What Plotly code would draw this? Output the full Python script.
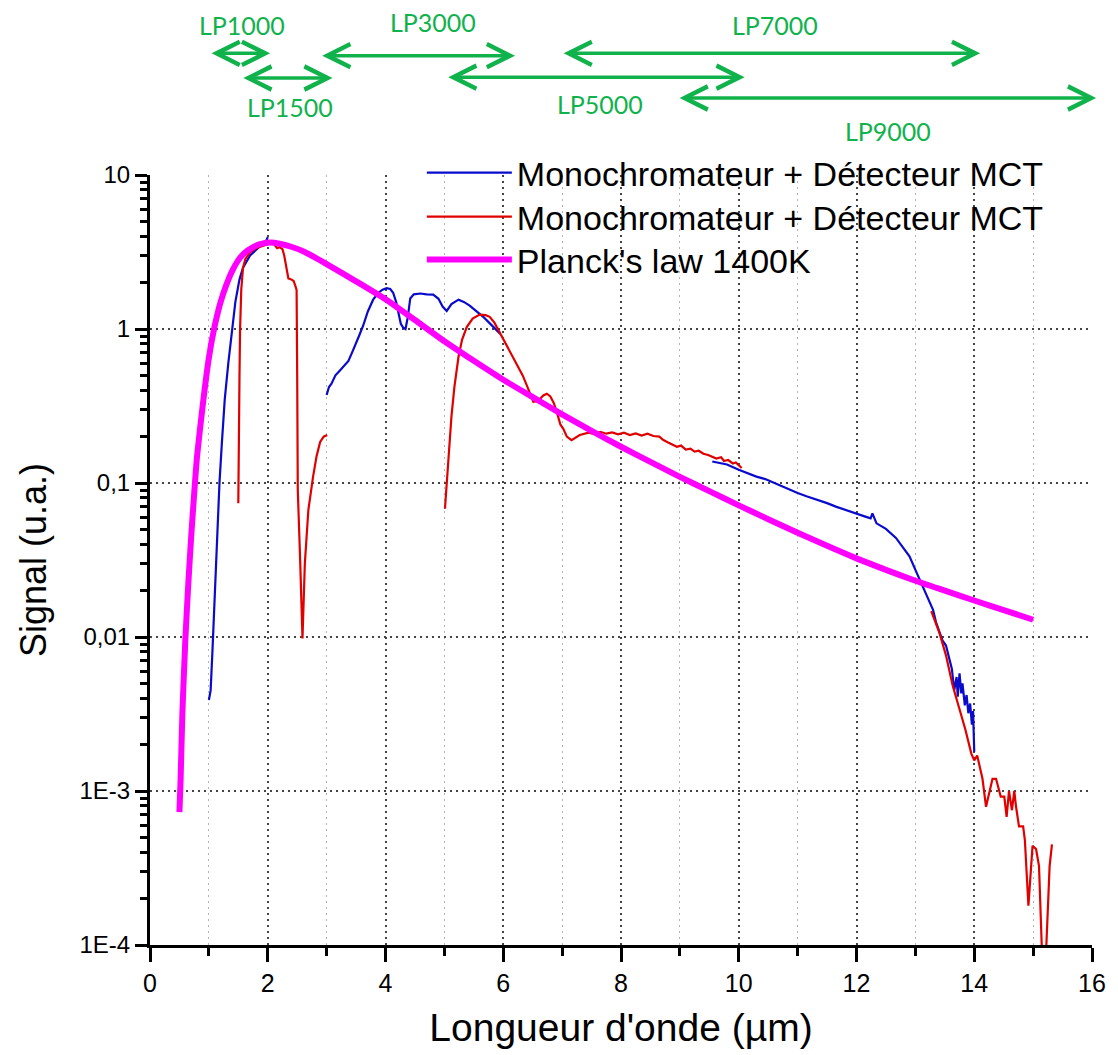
import plotly.graph_objects as go

# ---------------- data ----------------
# Planck's law 1400K (magenta)
planck_x = [0.50, 0.52, 0.55, 0.60, 0.65, 0.70, 0.75, 0.80, 0.90, 1.00, 1.10, 1.20, 1.30, 1.40,
            1.50, 1.60, 1.75, 1.90, 2.05, 2.20, 2.40, 2.60, 2.80, 3.00, 3.50, 4.00, 4.50, 5.00,
            5.50, 6.00, 6.50, 7.00, 7.50, 8.00, 8.50, 9.00, 9.50, 10.0, 10.5, 11.0, 11.5, 12.0,
            12.5, 13.0, 13.5, 14.0, 14.5, 15.0]
planck_y = [7.3e-4, 1.2e-3, 3.2e-3, 9.5e-3, 0.022, 0.045, 0.085, 0.15, 0.33, 0.65, 1.05, 1.5, 1.95, 2.4,
            2.8, 3.1, 3.4, 3.58, 3.64, 3.58, 3.42, 3.2, 2.92, 2.64, 2.04, 1.56, 1.143, 0.832,
            0.621, 0.468, 0.361, 0.279, 0.218, 0.172, 0.137, 0.1096, 0.0885, 0.0716, 0.0582, 0.0475, 0.0391, 0.0324,
            0.0273, 0.0232, 0.0200, 0.01726, 0.01496, 0.01294]

# Series 1 (blue) - three measured segments (None = gap)
blue_x = [1.00, 1.03, 1.06, 1.09, 1.12, 1.15, 1.18, 1.22, 1.27, 1.33, 1.39, 1.45, 1.52, 1.58, 1.70, 1.85, 1.97, 2.00,
          None,
          3.00, 3.04, 3.08, 3.15, 3.23, 3.30, 3.37, 3.43, 3.48, 3.55, 3.62, 3.70, 3.79, 3.88, 3.95, 4.02, 4.08,
          4.13, 4.18, 4.22, 4.26, 4.30, 4.34, 4.38, 4.42, 4.48, 4.59, 4.70, 4.81, 4.90, 4.97, 5.04, 5.12, 5.24,
          5.33, 5.43, 5.55, 5.66, 5.78, 5.89, 5.95,
          None,
          9.55, 9.65, 9.80, 10.0, 10.15, 10.3, 10.45, 10.6, 10.8, 11.0, 11.15, 11.33, 11.5, 11.66, 11.85, 12.0,
          12.15, 12.24, 12.27, 12.34, 12.5, 12.67, 12.78, 12.9, 13.01, 13.12, 13.24, 13.30, 13.35, 13.46, 13.52,
          13.57, 13.62, 13.66, 13.70, 13.72, 13.75, 13.78, 13.80, 13.84, 13.87, 13.90, 13.93, 13.96, 13.98, 14.0]
blue_y = [0.0039, 0.0045, 0.008, 0.015, 0.03, 0.06, 0.1, 0.18, 0.35, 0.6, 1.0, 1.5, 2.1, 2.5, 3.0, 3.4, 3.7, 3.95,
          None,
          0.373, 0.42, 0.44, 0.5, 0.54, 0.58, 0.62, 0.7, 0.77, 0.9, 1.05, 1.3, 1.55, 1.72, 1.8, 1.84, 1.82,
          1.72, 1.5, 1.3, 1.08, 1.02, 1.0, 1.2, 1.58, 1.68, 1.70, 1.68, 1.67, 1.57, 1.4, 1.31, 1.45, 1.55,
          1.5, 1.42, 1.3, 1.2, 1.08, 0.99, 0.93,
          None,
          0.138, 0.136, 0.132, 0.122, 0.116, 0.11, 0.106, 0.1, 0.093, 0.086, 0.082, 0.078, 0.074, 0.07, 0.066, 0.0628,
          0.0605, 0.059, 0.0635, 0.0547, 0.0504, 0.044, 0.0383, 0.0334, 0.0268, 0.0216, 0.0173, 0.015, 0.0125, 0.0095, 0.0088,
          0.0072, 0.0062, 0.0045, 0.0055, 0.0041, 0.0058, 0.0043, 0.005, 0.0036, 0.0042, 0.0032, 0.0037, 0.0027, 0.0033, 0.0018]

# Series 2 (red) - three measured segments (None = gap)
red_x = [1.50, 1.505, 1.515, 1.52, 1.53, 1.55, 1.58, 1.62, 1.70, 1.80, 1.90, 2.00, 2.07, 2.12, 2.16, 2.20, 2.25,
         2.28, 2.32, 2.35, 2.40, 2.44, 2.47, 2.49, 2.50, 2.51, 2.55, 2.59, 2.63, 2.69, 2.77, 2.83, 2.89, 2.95, 3.01,
         None,
         5.01, 5.05, 5.08, 5.12, 5.17, 5.24, 5.30, 5.38, 5.48, 5.60, 5.70, 5.77, 5.85, 5.92, 6.00, 6.08, 6.17,
         6.25, 6.33, 6.40, 6.46, 6.51, 6.57, 6.62, 6.68, 6.74, 6.80, 6.86, 6.92, 6.97, 7.02, 7.08, 7.16, 7.23,
         7.30, 7.45, 7.55, 7.65, 7.75, 7.85, 7.95, 8.05, 8.15, 8.25, 8.35, 8.45, 8.55, 8.65, 8.72, 8.80, 8.88,
         8.95, 9.02, 9.10, 9.18, 9.25, 9.32, 9.40, 9.48, 9.55, 9.62, 9.70, 9.75, 9.82, 9.90, 9.95, 10.05,
         None,
         13.27, 13.35, 13.41, 13.52, 13.63, 13.74, 13.85, 13.95, 14.00, 14.05, 14.11, 14.14, 14.20, 14.25, 14.31,
         14.37, 14.45, 14.51, 14.55, 14.59, 14.64, 14.68, 14.71, 14.76, 14.83, 14.86, 14.92, 14.99, 15.05, 15.10,
         15.15, 15.22, 15.28, 15.32]
red_y = [0.074, 0.2, 0.22, 0.5, 1.0, 1.8, 2.5, 2.85, 3.15, 3.35, 3.45, 3.55, 3.7, 3.5, 3.35, 3.4, 3.3,
         3.0, 2.4, 2.13, 2.1, 2.05, 1.9, 1.79, 0.5, 0.09, 0.032, 0.0098, 0.03, 0.067, 0.11, 0.15, 0.185, 0.2, 0.205,
         None,
         0.068, 0.11, 0.16, 0.27, 0.42, 0.66, 0.85, 1.03, 1.17, 1.24, 1.23, 1.2, 1.1, 0.98, 0.86, 0.76, 0.66,
         0.58, 0.5, 0.43, 0.37, 0.337, 0.34, 0.35, 0.37, 0.38, 0.365, 0.33, 0.28, 0.24, 0.225, 0.2, 0.19, 0.198,
         0.205, 0.212, 0.208, 0.215, 0.209, 0.213, 0.207, 0.212, 0.205, 0.21, 0.203, 0.209, 0.202, 0.2, 0.19, 0.183, 0.178,
         0.172, 0.175, 0.165, 0.167, 0.16, 0.162, 0.155, 0.152, 0.148, 0.144, 0.147, 0.139, 0.141, 0.134, 0.136, 0.125,
         None,
         0.0147, 0.012, 0.0106, 0.0076, 0.0049, 0.0035, 0.0025, 0.00175, 0.00158, 0.0017, 0.00136, 0.0012, 0.00079, 0.00095, 0.0012,
         0.0012, 0.00092, 0.00092, 0.00068, 0.001, 0.00075, 0.001, 0.00079, 0.00059, 0.00059, 0.00048, 0.00018, 0.00044, 0.00042, 0.000325,
         0.00009, 0.00009, 0.000325, 0.00045]

# Y tick labels (decades)
y_tickvals = [1e-4, 1e-3, 1e-2, 1e-1, 1, 10]
y_ticktext = ["1E-4", "1E-3", "0,01", "0,1", "1", "10"]

# Long-pass filter ranges shown above the chart (µm)
filter_names = ["LP1000", "LP1500", "LP3000", "LP5000", "LP7000", "LP9000"]
filter_start = [1.02, 1.56, 2.90, 5.04, 7.00, 8.97]
filter_end = [2.04, 3.10, 6.20, 10.1, 14.1, 16.07]

# ---------------- layout constants ----------------
arrow_y = [1.158, 1.126, 1.155, 1.127, 1.158, 1.100]       # paper coords
label_x = [1.56, 2.38, 4.81, 7.64, 10.62, 12.54]           # data coords
label_y = [1.195, 1.088, 1.199, 1.092, 1.195, 1.057]        # paper coords
GREEN = "rgb(16,178,76)"
LEG_X = 0.2886

fig = go.Figure()
fig.add_trace(go.Scatter(x=blue_x, y=blue_y, mode="lines", name="Monochromateur + Détecteur MCT",
                         line=dict(color="#0A0ACC", width=2.2), connectgaps=False, legend="legend"))
fig.add_trace(go.Scatter(x=red_x, y=red_y, mode="lines", name="Monochromateur + Détecteur MCT",
                         line=dict(color="#E00000", width=2.2), connectgaps=False, legend="legend2"))
fig.add_trace(go.Scatter(x=planck_x, y=planck_y, mode="lines", name="Planck's law 1400K",
                         line=dict(color="#FF00FF", width=6, shape="spline", smoothing=0.6), legend="legend3"))

annotations = []
for name, s, e, ay, lx, ly in zip(filter_names, filter_start, filter_end, arrow_y, label_x, label_y):
    annotations.append(dict(x=e, y=ay, xref="x", yref="paper", ax=s, ay=0, axref="x", ayref="pixel",
                            text="", showarrow=True, arrowhead=5, startarrowhead=5, arrowside="end+start",
                            arrowsize=1.3, startarrowsize=1.3, arrowwidth=3.5, arrowcolor=GREEN,
                            standoff=0, startstandoff=0))
    annotations.append(dict(x=lx, y=ly, xref="x", yref="paper", text=name, showarrow=False,
                            xanchor="center", yanchor="middle",
                            font=dict(family="Lato, Open Sans, sans-serif", size=25, color=GREEN)))

leg_common = dict(x=LEG_X, xanchor="left", yanchor="middle", bgcolor="rgba(0,0,0,0)",
                  font=dict(size=34, color="black"), itemwidth=85)

fig.update_layout(
    width=1118, height=1055,
    margin=dict(l=150, r=26, t=175, b=110, autoexpand=False),
    paper_bgcolor="white", plot_bgcolor="white",
    font=dict(family="Liberation Sans, Arial, sans-serif", color="black"),
    showlegend=True,
    legend=dict(y=1.0026, **leg_common),
    legend2=dict(y=0.9455, **leg_common),
    legend3=dict(y=0.8896, **leg_common),
    annotations=annotations,
)

fig.update_xaxes(
    range=[0, 16], tickmode="linear", tick0=0, dtick=2,
    showline=True, linecolor="black", linewidth=3, mirror=False,
    ticks="outside", ticklen=14, tickwidth=3, tickcolor="black",
    tickfont=dict(size=25),
    showgrid=True, gridcolor="#444444", gridwidth=1.5, griddash="2px,4px",
    minor=dict(tickmode="linear", dtick=1, ticks="outside", ticklen=8, tickwidth=3, tickcolor="black",
               showgrid=True, gridcolor="#b5b5b5", gridwidth=1.2, griddash="2px,4px"),
    zeroline=False,
    title=dict(text="Longueur d'onde (µm)", font=dict(size=39), standoff=18),
)
fig.update_yaxes(
    type="log", range=[-4, 1], tickmode="array", tickvals=y_tickvals, ticktext=y_ticktext,
    showline=True, linecolor="black", linewidth=3, mirror=False,
    ticks="outside", ticklen=12, tickwidth=3, tickcolor="black",
    tickfont=dict(size=24),
    showgrid=True, gridcolor="#444444", gridwidth=1.5, griddash="2px,4px",
    minor=dict(dtick="D1", ticks="outside", ticklen=7, tickwidth=2.5, tickcolor="black", showgrid=False),
    zeroline=False,
    title=dict(text="Signal (u.a.)", font=dict(size=36), standoff=22),
)

fig.write_html("out.html", config={"displayModeBar": False},
               post_script="document.body.style.margin='0';document.body.style.overflow='hidden';")
